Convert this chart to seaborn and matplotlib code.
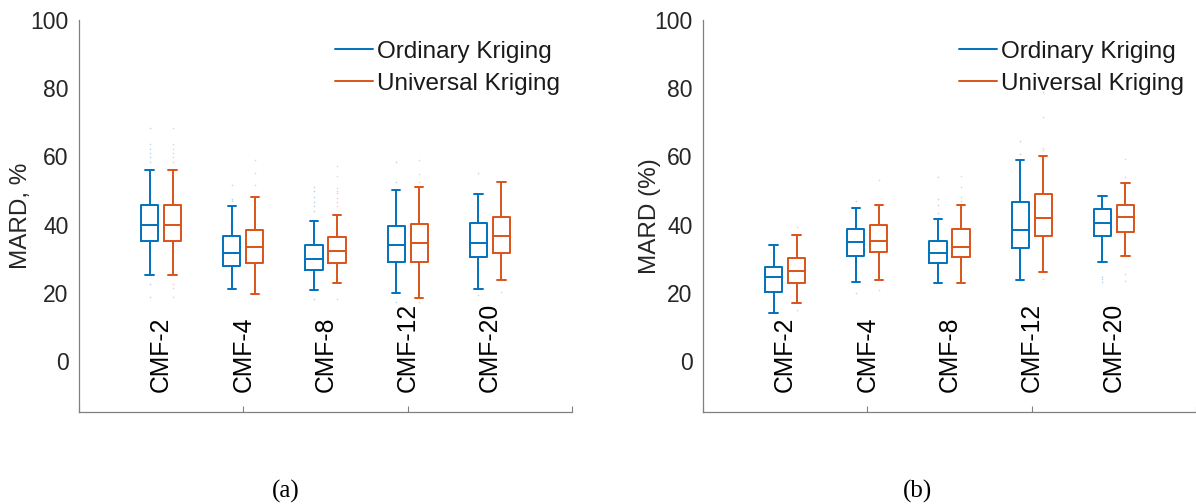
import numpy as np
import pandas as pd
import matplotlib
matplotlib.use("Agg")
import matplotlib.pyplot as plt
from matplotlib.lines import Line2D
import seaborn as sns

categories = ["CMF-2", "CMF-4", "CMF-8", "CMF-12", "CMF-20"]
methods = ["Ordinary Kriging", "Universal Kriging"]
colors = ["#0072BD", "#D95319"]

# Box summaries per category: lower whisker, Q1, median, Q3, upper whisker
ok_a = [[25.1, 35.2, 39.8, 45.7, 55.9],
        [21.0, 27.8, 31.5, 36.7, 45.3],
        [20.8, 26.8, 29.9, 34.0, 41.1],
        [19.8, 29.1, 33.9, 39.5, 50.0],
        [21.2, 30.6, 34.7, 40.5, 49.0]]
uk_a = [[25.1, 35.2, 39.8, 45.7, 55.9],
        [19.6, 28.6, 33.5, 38.4, 48.2],
        [22.7, 28.6, 32.3, 36.3, 42.7],
        [18.5, 29.1, 34.5, 40.1, 51.0],
        [23.6, 31.5, 36.7, 42.3, 52.5]]
ok_b = [[13.9, 20.3, 24.5, 27.4, 34.0],
        [23.1, 30.8, 34.9, 38.6, 44.8],
        [22.7, 28.6, 31.6, 35.3, 41.7],
        [23.8, 33.1, 38.4, 46.6, 59.0],
        [29.1, 36.7, 40.4, 44.6, 48.5]]
uk_b = [[17.1, 22.8, 26.3, 30.1, 36.9],
        [23.8, 31.8, 35.1, 39.8, 45.7],
        [22.8, 30.4, 33.5, 38.7, 45.7],
        [26.0, 36.7, 42.0, 49.1, 60.0],
        [30.9, 37.7, 42.3, 45.7, 52.1]]

# Outlying observations per category
ok_a_out = [[68.2, 63.5, 62.1, 60.9, 59.7, 58.4, 22.6, 18.7],
            [51.6, 47.4, 47.0],
            [50.9, 49.9, 48.2, 46.7, 45.5, 44.1, 18.1],
            [58.3, 52.6, 17.4],
            [55.2, 19.2]]
uk_a_out = [[68.2, 63.5, 62.1, 60.9, 59.7, 58.4, 22.6, 21.5, 18.7],
            [58.9, 55.2, 51.6],
            [57.2, 54.3, 50.8, 49.9, 49.2, 47.9, 46.7, 45.5, 18.1],
            [58.9, 54.8, 52.6, 17.4],
            [20.2]]
ok_b_out = [[],
            [47.0, 20.0],
            [53.9, 47.4, 45.7, 43.5],
            [64.4, 60.7],
            [24.6, 24.1, 23.1]]
uk_b_out = [[39.4, 15.0],
            [53.1, 20.8],
            [54.3, 50.9, 48.2, 47.0],
            [78.8, 71.5, 62.4, 61.9, 24.1],
            [59.2, 54.0, 25.4, 23.5]]

panels = [
    ("MARD, %", ok_a, uk_a, ok_a_out, uk_a_out, "(a)"),
    ("MARD (%)", ok_b, uk_b, ok_b_out, uk_b_out, "(b)"),
]

sns.set_theme(style="white")
plt.rcParams["font.family"] = ["Liberation Sans", "DejaVu Sans"]

W, H = 1196, 504
fig = plt.figure(figsize=(W / 100, H / 100), dpi=100)

axes_rects = [
    [79 / W, (H - 412) / H, 493 / W, 392 / H],
    [703 / W, (H - 412) / H, 493 / W, 392 / H],
]
ylabel_x = [-0.1176, -0.1075]
sub_x = [286 / W, 917 / W]

spine_col = "#808080"
text_col = "#262626"
box_width = 0.56
box_gap = 0.25
lw = 1.4

for k, (ylab, ok, uk, ok_out, uk_out, sub) in enumerate(panels):
    ax = fig.add_axes(axes_rects[k])
    rows = []
    for method, summ in zip(methods, [ok, uk]):
        for cat, vals in zip(categories, summ):
            for v in vals:
                rows.append((cat, method, v))
    df = pd.DataFrame(rows, columns=["category", "method", "value"])

    sns.boxplot(data=df, x="category", y="value", hue="method",
                order=categories, hue_order=methods, palette=colors,
                fill=False, width=box_width, gap=box_gap, whis=1.5,
                showfliers=False, linewidth=lw, legend=False, ax=ax)

    # outlying points, at the same dodged positions as the boxes
    for j, (outs, col) in enumerate(zip([ok_out, uk_out], colors)):
        shift = (j - 0.5) * box_width / 2
        for i, pts in enumerate(outs):
            if pts:
                ax.scatter(np.full(len(pts), i + shift), pts, marker="+",
                           s=3, linewidths=0.5, color=col, alpha=0.25,
                           zorder=1)

    ax.set_xlim(-1, 5)
    ax.set_ylim(-15, 100)
    ax.set_xticks([-1, 1, 3, 5])
    ax.set_xticklabels([])
    ax.set_yticks(np.arange(0, 101, 20))
    ax.set_xlabel("")
    ax.set_ylabel("")
    ax.tick_params(axis="both", direction="in", length=4, width=0.8,
                   color=spine_col)
    ax.tick_params(axis="y", labelsize=16.5, labelcolor=text_col, pad=7.5)
    ax.tick_params(axis="x", bottom=True)
    for s in ["top", "right"]:
        ax.spines[s].set_visible(False)
    for s in ["left", "bottom"]:
        ax.spines[s].set_color(spine_col)
        ax.spines[s].set_linewidth(0.9)

    # category names written inside the axes
    for i, cat in enumerate(categories):
        ax.text(i, -9.2, cat, rotation=90, ha="center", va="bottom",
                fontsize=17.8, color="black")

    ax.text(ylabel_x[k], 0.5, ylab, transform=ax.transAxes, rotation=90,
            ha="center", va="center", fontsize=17.5, color=text_col)

    handles = [Line2D([], [], color=c, lw=lw) for c in colors]
    ax.legend(handles, methods, loc="upper left", bbox_to_anchor=(0.519, 0.947),
              frameon=False, fontsize=17.5, handlelength=1.55,
              handletextpad=0.2, labelspacing=0.4, borderpad=0,
              borderaxespad=0, labelcolor="#1a1a1a")

    fig.text(sub_x[k], (H - 491) / H, sub, ha="center", va="center",
             family="Liberation Serif", fontsize=18, color="black")

fig.savefig("out.png", dpi=100)
